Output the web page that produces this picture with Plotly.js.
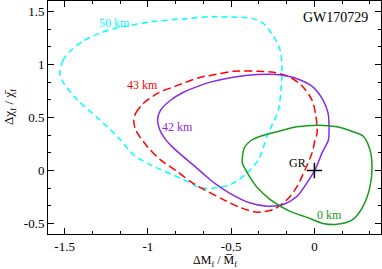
<!DOCTYPE html>
<html><head><meta charset="utf-8">
<script src="https://cdn.plot.ly/plotly-3.0.1.min.js"></script>
<style>html,body{margin:0;padding:0;background:#fff}</style>
</head><body><div id="c" style="width:382px;height:269px"></div>
<script>
// 50 km contour (cyan, dashed)
const x50 = [-1.529,-1.511,-1.463,-1.385,-1.283,-1.181,-0.984,-0.787,-0.625,-0.553,-0.385,-0.313,-0.255,-0.205,-0.195,-0.217,-0.277,-0.337,-0.415,-0.505,-0.583,-0.643,-0.702,-0.786,-0.984,-1.085,-1.181,-1.301,-1.421,-1.505,-1.529];
const y50 = [0.916,1.038,1.131,1.225,1.300,1.347,1.403,1.431,1.453,1.450,1.438,1.396,1.291,1.131,0.928,0.569,0.353,0.100,-0.040,-0.134,-0.162,-0.171,-0.153,-0.087,0.053,0.147,0.316,0.494,0.663,0.822,0.916];
// 43 km contour (red, dashed)
const x43 = [-1.085,-1.073,-1.026,-0.942,-0.822,-0.684,-0.625,-0.487,-0.343,-0.247,-0.146,-0.068,-0.014,0.010,0.016,0.004,-0.014,-0.056,-0.104,-0.163,-0.247,-0.343,-0.445,-0.547,-0.684,-0.744,-0.822,-0.924,-1.002,-1.073,-1.085];
const y43 = [0.475,0.541,0.634,0.728,0.803,0.881,0.897,0.937,0.937,0.928,0.881,0.787,0.663,0.506,0.351,0.288,0.166,0.007,-0.150,-0.275,-0.368,-0.394,-0.350,-0.275,-0.162,-0.106,-0.012,0.100,0.222,0.381,0.475];
// 42 km contour (purple, solid)
const x42 = [-0.942,-0.924,-0.864,-0.786,-0.684,-0.625,-0.487,-0.343,-0.223,-0.104,-0.008,0.052,0.082,0.088,0.084,0.046,0.004,-0.044,-0.104,-0.187,-0.283,-0.385,-0.505,-0.600,-0.665,-0.730,-0.795,-0.855,-0.900,-0.930,-0.942];
const y42 = [0.475,0.569,0.663,0.738,0.803,0.834,0.881,0.906,0.906,0.866,0.787,0.663,0.541,0.412,0.288,0.166,0.007,-0.115,-0.244,-0.321,-0.337,-0.308,-0.218,-0.120,-0.035,0.055,0.140,0.225,0.305,0.390,0.475];
// 0 km contour (green, solid)
const x0 = [-0.433,-0.421,-0.385,-0.337,-0.223,-0.104,0.022,0.136,0.232,0.292,0.334,0.346,0.334,0.292,0.232,0.136,0.052,-0.044,-0.146,-0.265,-0.343,-0.403,-0.433,-0.433];
const y0 = [0.119,0.213,0.278,0.316,0.366,0.412,0.428,0.412,0.366,0.325,0.194,0.035,-0.153,-0.340,-0.462,-0.509,-0.500,-0.443,-0.387,-0.275,-0.162,-0.022,0.072,0.119];
// GR point
const grX = [0];
const grY = [0];
// labels
const labelText = ["50 km","43 km","42 km","GR","0 km"];
const labelX = [-1.2,-1.03,-0.82,-0.10,0.09];
const labelY = [1.39,0.81,0.41,0.072,-0.42];
const labelColor = ["#00ffff","#ff0000","#8a2be2","#000000","#1a9a1a"];
// ticks
const xTickVals = [-1.5,-1,-0.5,0];
const xTickText = ["-1.5","-1","-0.5","0"];
const yTickVals = [-0.5,0,0.5,1,1.5];
const yTickText = ["-0.5","0","0.5","1","1.5"];

const font = "'Liberation Serif', 'Times New Roman', serif";
const traces = [
  {x:x50,y:y50,mode:'lines',line:{color:'#00ffff',width:1.5,dash:'6px,4px',shape:'spline',smoothing:0.8}},
  {x:x43,y:y43,mode:'lines',line:{color:'#ff0000',width:1.5,dash:'8px,4px',shape:'spline',smoothing:0.8}},
  {x:x42,y:y42,mode:'lines',line:{color:'#8a2be2',width:1.5,shape:'spline',smoothing:0.8}},
  {x:x0,y:y0,mode:'lines',line:{color:'#1a9a1a',width:1.5,shape:'spline',smoothing:0.8}},
  {x:grX,y:grY,mode:'markers',marker:{symbol:'cross-thin',size:11,line:{width:1.5,color:'#000'}}}
];
const ann = labelText.map((t,i)=>({x:labelX[i],y:labelY[i],xanchor:'center',yanchor:'middle',text:t,showarrow:false,font:{family:font,size:12,color:labelColor[i]}}));
ann.push({xref:'paper',yref:'paper',x:0.862,y:0.93,xanchor:'center',yanchor:'middle',text:'GW170729',showarrow:false,font:{family:font,size:14,color:'#000'}});
ann.push({xref:'paper',yref:'paper',x:0,xshift:-39,xanchor:'center',yanchor:'middle',y:0.545,text:'Δχ<sub>f</sub> / χ\u0304<sub>f</sub>',textangle:-90,showarrow:false,font:{family:font,size:13,color:'#000'}});
ann.push({xref:'paper',yref:'paper',x:0.5,y:0,yshift:-27,xanchor:'center',yanchor:'middle',text:'ΔM<sub>f</sub> / M\u0305<sub>f</sub>',showarrow:false,font:{family:font,size:12,color:'#000'}});
const axCommon = {showgrid:false,zeroline:false,showline:true,linecolor:'#000',linewidth:1,mirror:'ticks',ticks:'inside',ticklen:6,tickwidth:1,tickcolor:'#000',tickmode:'array',tickfont:{family:font,size:13,color:'#000'}};
const layout = {
  width:382,height:269,margin:{l:48,r:1,t:1,b:35},showlegend:false,
  paper_bgcolor:'#fff',plot_bgcolor:'#fff',
  xaxis:Object.assign({},axCommon,{range:[-1.6,0.4],tickvals:xTickVals,ticktext:xTickText,minor:{dtick:1/6,tick0:0,ticks:'inside',ticklen:3,tickcolor:'#000'}}),
  yaxis:Object.assign({},axCommon,{range:[-0.6,1.6],tickvals:yTickVals,ticktext:yTickText,minor:{dtick:1/6,tick0:0,ticks:'inside',ticklen:3,tickcolor:'#000'}}),
  annotations:ann
};
Plotly.newPlot('c',traces,layout,{staticPlot:true,displayModeBar:false});
</script></body></html>
